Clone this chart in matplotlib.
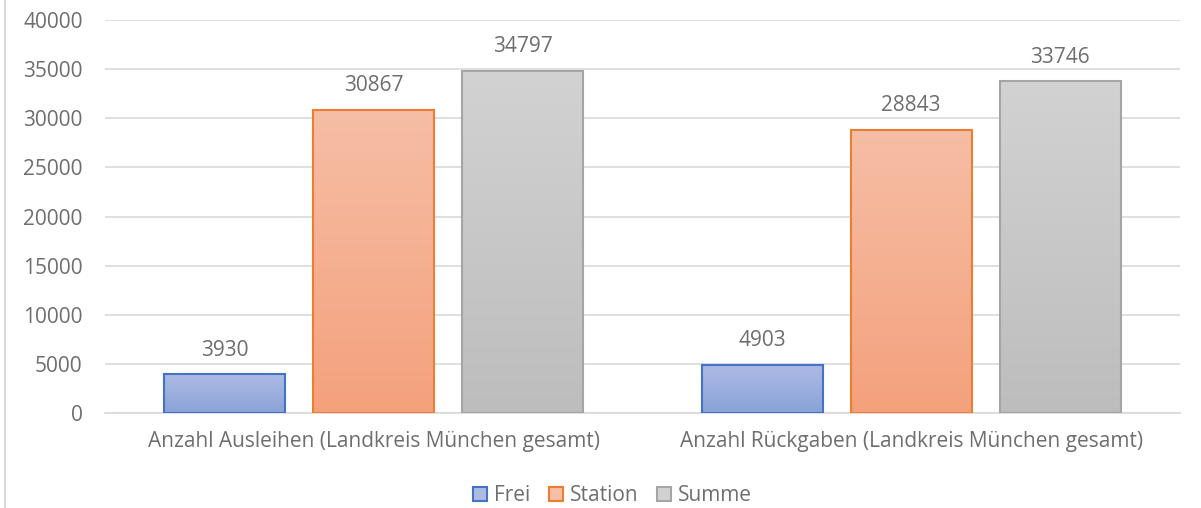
import numpy as np
import matplotlib.pyplot as plt
from matplotlib.colors import LinearSegmentedColormap
from matplotlib.patches import Patch
from matplotlib.lines import Line2D

categories = ["Anzahl Ausleihen (Landkreis München gesamt)",
              "Anzahl Rückgaben (Landkreis München gesamt)"]
series = ["Frei", "Station", "Summe"]
frei = [3930, 4903]
station = [30867, 28843]
summe = [34797, 33746]

values = [frei, station, summe]
edge_colors = ["#4472C4", "#ED7D31", "#A5A5A5"]
grad_colors = [("#ADBBE4", "#8AA2D8"), ("#F6BEA6", "#F4A17C"), ("#D2D2D2", "#BDBDBD")]
text_color = "#6E6E6E"
fs = 15

plt.rcParams['font.family'] = ['Open Sans', 'DejaVu Sans']

fig = plt.figure(figsize=(12.01, 5.08), dpi=100)
ax = fig.add_axes([0.0874, 0.187, 0.8951, 0.7736])

x = np.arange(len(categories))
width = 0.225
step = 0.277

for i, (vals, ec, (ctop, cbot)) in enumerate(zip(values, edge_colors, grad_colors)):
    pos = x + (i - 1) * step
    bars = ax.bar(pos, vals, width=width, facecolor="none", edgecolor=ec,
                  linewidth=1.5, zorder=3)
    cmap = LinearSegmentedColormap.from_list("g%d" % i, [cbot, ctop])
    for b, v in zip(bars, vals):
        x0 = b.get_x()
        im = ax.imshow(np.linspace(0, 1, 256).reshape(-1, 1), cmap=cmap,
                       extent=[x0, x0 + b.get_width(), 0, v], origin="lower",
                       aspect="auto", zorder=2)
        im.set_clip_path(b)
        ax.annotate(str(v), (b.get_x() + b.get_width() / 2, v),
                    xytext=(0, 17.5), textcoords="offset points",
                    ha="center", va="center", fontsize=fs, color=text_color)

ax.set_xlim(-0.5, 1.5)
ax.set_ylim(0, 40000)
ax.set_yticks(np.arange(0, 40001, 5000))
ax.set_xticks(x)
ax.set_xticklabels(categories)
ax.grid(axis="y", color="#D9D9D9", linewidth=1.2, zorder=0)
ax.set_axisbelow(True)
for s in ["top", "right", "left"]:
    ax.spines[s].set_visible(False)
ax.spines["bottom"].set_color("#D9D9D9")
ax.spines["bottom"].set_linewidth(1.2)
ax.tick_params(axis="both", length=0, labelsize=fs, colors=text_color)
ax.tick_params(axis="y", pad=16)
ax.tick_params(axis="x", pad=13)

handles = [Patch(facecolor=g[0], edgecolor=e, linewidth=1.5) for g, e in zip(grad_colors, edge_colors)]
fig.legend(handles, series, loc="center", bbox_to_anchor=(0.51, 0.024), ncol=3,
           frameon=False, fontsize=fs, labelcolor=text_color,
           handlelength=0.67, handleheight=0.67, handletextpad=0.33, columnspacing=0.9)

fig.add_artist(Line2D([0.0045, 0.0045], [0, 1], color="#D9D9D9", linewidth=1.5,
                      transform=fig.transFigure))

fig.savefig("out.png", dpi=100)
